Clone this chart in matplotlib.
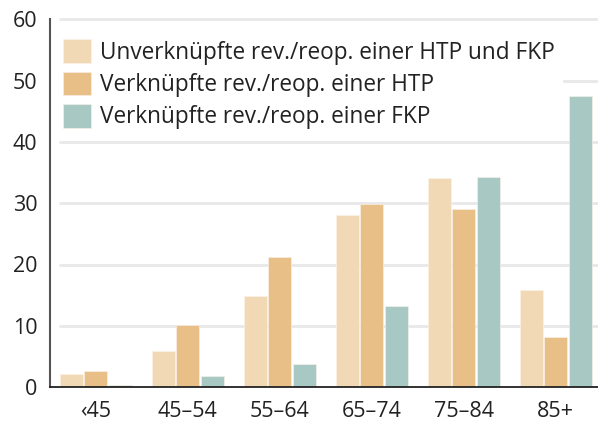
import matplotlib
matplotlib.use("Agg")
import matplotlib.pyplot as plt
import numpy as np

categories = ["\u203945", "45\u201354", "55\u201364", "65\u201374", "75\u201384", "85+"]
series_names = [
    "Unverknüpfte rev./reop. einer HTP und FKP",
    "Verknüpfte rev./reop. einer HTP",
    "Verknüpfte rev./reop. einer FKP",
]
unverknuepft = [2.1, 5.8, 14.9, 28.1, 34.1, 15.8]
verknuepft_htp = [2.6, 10.1, 21.2, 29.9, 29.0, 8.2]
verknuepft_fkp = [0.3, 1.8, 3.8, 13.3, 34.3, 47.5]
yticks = [0, 10, 20, 30, 40, 50, 60]

colors = ["#f2d9b6", "#e8bf86", "#a8c9c3"]

plt.rcParams['font.family'] = ['Open Sans', 'DejaVu Sans']

fig = plt.figure(figsize=(5.98, 4.21), dpi=100)
ax = fig.add_axes([50/598, (421-387)/421, 548/598, (387-19.5)/421])

x = np.arange(len(categories))
step = 0.266
width = 0.25
for i, (vals, name, c) in enumerate(zip([unverknuepft, verknuepft_htp, verknuepft_fkp], series_names, colors)):
    ax.bar(x + (i - 1) * step, vals, width=width, color=c, label=name, zorder=3,
           edgecolor="#fbf3ea", linewidth=0.4)

ax.set_xlim(-0.495, 5.46)
ax.set_ylim(0, 60)
for yv in yticks[1:]:
    ax.hlines(yv, -0.4, 5.46, color="#e8e8e8", linewidth=2, zorder=1, clip_on=False)

ax.set_yticks(yticks)
ax.set_xticks(x)
ax.set_xticklabels(categories)
ax.tick_params(axis='both', length=0, labelsize=15.5, colors="#222222")
ax.tick_params(axis='y', pad=9)
ax.tick_params(axis='x', pad=10)
for s in ["top", "right"]:
    ax.spines[s].set_visible(False)
ax.spines["left"].set_color("#555555")
ax.spines["left"].set_linewidth(1.5)
ax.spines["bottom"].set_color("#222222")
ax.spines["bottom"].set_linewidth(1.3)
ax.spines["bottom"].set_zorder(4)

leg = ax.legend(loc="upper left", bbox_to_anchor=(0.012, 0.965), frameon=True,
                fancybox=False, edgecolor="white", framealpha=1.0,
                fontsize=16.3, handlelength=1.2, handleheight=1.25,
                handletextpad=0.42, labelspacing=0.3, borderpad=0.3,
                borderaxespad=0)
leg.set_zorder(5)
for t in leg.get_texts():
    t.set_color("#222222")

fig.savefig("out.png", dpi=100)
